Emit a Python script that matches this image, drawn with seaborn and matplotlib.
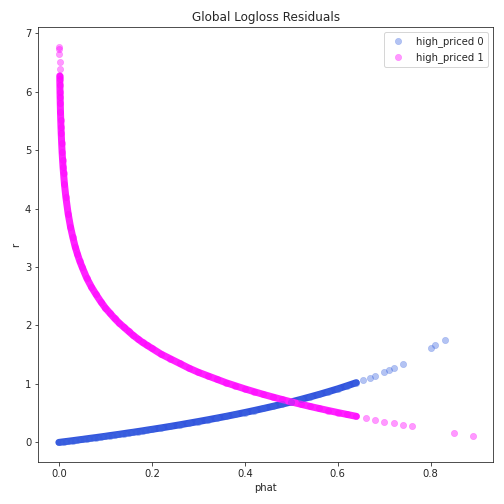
import matplotlib
matplotlib.use("Agg")
import matplotlib.pyplot as plt
import seaborn as sns

# residui per la classe 0 (phat, r)
phat0 = [0.00, 0.01, 0.02, 0.03, 0.04, 0.05, 0.06, 0.07, 0.08, 0.09, 0.10, 0.11, 0.12, 0.13, 0.14,
         0.15, 0.16, 0.17, 0.18, 0.19, 0.20, 0.22, 0.24, 0.26, 0.28, 0.30, 0.32, 0.34, 0.36, 0.38,
         0.40, 0.42, 0.44, 0.46, 0.48, 0.50, 0.52, 0.54, 0.56, 0.58, 0.60, 0.62, 0.64,
         0.655, 0.67, 0.68, 0.70, 0.71, 0.72, 0.74, 0.80, 0.81, 0.83]
r0 = [0.000, 0.010, 0.020, 0.030, 0.041, 0.051, 0.062, 0.073, 0.083, 0.094, 0.105, 0.117, 0.128, 0.139, 0.151,
      0.163, 0.174, 0.186, 0.198, 0.211, 0.223, 0.248, 0.274, 0.301, 0.329, 0.357, 0.386, 0.416, 0.446, 0.478,
      0.511, 0.545, 0.580, 0.616, 0.654, 0.693, 0.734, 0.777, 0.821, 0.868, 0.916, 0.968, 1.022,
      1.064, 1.109, 1.139, 1.204, 1.238, 1.273, 1.347, 1.609, 1.661, 1.750]
n_dense0 = 43  # punti fitti (curva continua)

# residui per la classe 1 (phat, r)
phat1 = [0.00115, 0.0012, 0.0013, 0.0015, 0.0017, 0.0019, 0.002, 0.0022, 0.0025, 0.0027, 0.003, 0.0035,
         0.004, 0.0045, 0.005, 0.006, 0.007, 0.008, 0.009, 0.010, 0.012, 0.015, 0.020, 0.025, 0.030,
         0.035, 0.040, 0.045, 0.050, 0.060, 0.070, 0.080, 0.090, 0.10, 0.11, 0.12, 0.13, 0.14, 0.15,
         0.16, 0.17, 0.18, 0.19, 0.20, 0.22, 0.24, 0.26, 0.28, 0.30, 0.32, 0.34, 0.36, 0.38, 0.40,
         0.42, 0.44, 0.46, 0.48, 0.50, 0.52, 0.54, 0.56, 0.58, 0.60, 0.62, 0.64, 0.66, 0.68, 0.70,
         0.72, 0.74, 0.76, 0.85, 0.89]
r1 = [6.77, 6.73, 6.65, 6.50, 6.38, 6.27, 6.21, 6.12, 5.99, 5.91, 5.81, 5.65,
      5.52, 5.40, 5.30, 5.12, 4.96, 4.83, 4.71, 4.61, 4.42, 4.20, 3.91, 3.69, 3.51,
      3.35, 3.22, 3.10, 3.00, 2.81, 2.66, 2.53, 2.41, 2.30, 2.21, 2.12, 2.04, 1.97, 1.90,
      1.83, 1.77, 1.71, 1.66, 1.61, 1.51, 1.43, 1.35, 1.27, 1.20, 1.14, 1.08, 1.02, 0.968, 0.916,
      0.868, 0.821, 0.777, 0.734, 0.693, 0.654, 0.616, 0.580, 0.545, 0.511, 0.478, 0.446, 0.416, 0.386, 0.357,
      0.329, 0.301, 0.274, 0.163, 0.117]
start_dense1 = 5   # da qui la curva è fitta
end_dense1 = 66

sns.set_style("ticks")
plt.rcParams["font.family"] = ["DejaVu Sans"]

fig, ax = plt.subplots(figsize=(7, 7), dpi=72)

# le zone fitte appaiono come una striscia piena
sns.lineplot(x=phat0[:n_dense0], y=r0[:n_dense0], color="#3355dd", linewidth=7,
             sort=False, ax=ax, zorder=1)
sns.lineplot(x=phat1[start_dense1:end_dense1], y=r1[start_dense1:end_dense1], color="#ff22ff",
             linewidth=7, sort=False, ax=ax, zorder=1)

sns.scatterplot(x=phat0, y=r0, color="royalblue", alpha=0.4, s=40, edgecolor="royalblue",
                label="high_priced 0", ax=ax, zorder=2)
sns.scatterplot(x=phat1, y=r1, color="magenta", alpha=0.4, s=40, edgecolor="magenta",
                label="high_priced 1", ax=ax, zorder=2)

ax.set_title("Global Logloss Residuals")
ax.set_xlabel("phat")
ax.set_ylabel("r")
ax.set_xticks([0.0, 0.2, 0.4, 0.6, 0.8])
ax.set_yticks(range(0, 8))
ax.legend(loc="upper right")
plt.tight_layout()
plt.savefig("out.png", dpi=72)
